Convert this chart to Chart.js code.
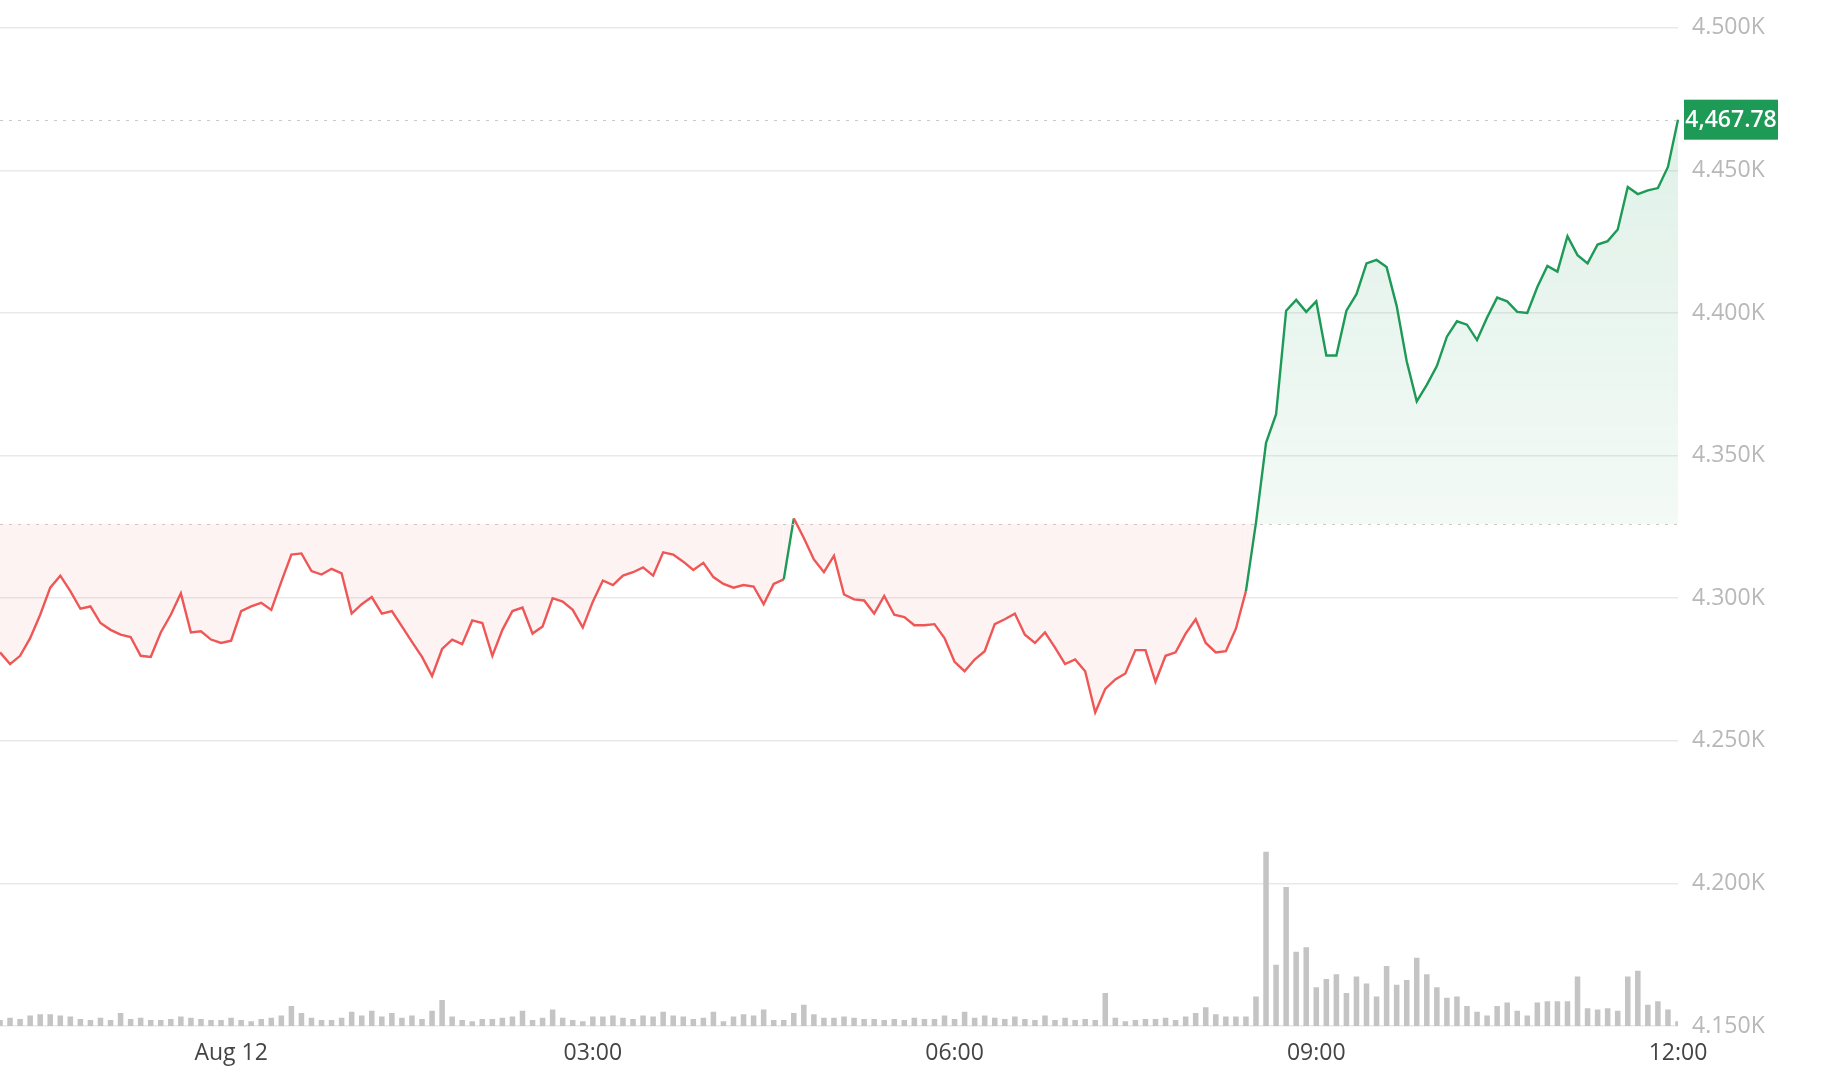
<!DOCTYPE html>
<html>
<head>
<meta charset="utf-8">
<script src="https://cdn.jsdelivr.net/npm/chart.js@4.4.1/dist/chart.umd.min.js"></script>
<style>
  html, body { margin: 0; padding: 0; background: #fff; }
  #wrap { position: relative; width: 1843px; height: 1080px; }
</style>
</head>
<body>
<div id="wrap"><canvas id="priceChart"></canvas></div>
<script>
'use strict';

// ---- data (5-minute points, ending 12:00) ----
const prices = [
  4281.0, 4276.9, 4279.8, 4286.0, 4294.2, 4303.7, 4307.9, 4302.5, 4296.3, 4297.1,
  4291.3, 4288.9, 4287.2, 4286.4, 4279.8, 4279.4, 4288.0, 4294.2, 4301.7, 4288.0,
  4288.4, 4285.5, 4284.3, 4285.1, 4295.5, 4297.1, 4298.4, 4295.9, 4305.8, 4315.3,
  4315.7, 4309.5, 4308.3, 4310.3, 4308.7, 4294.6, 4297.9, 4300.4, 4294.6, 4295.5,
  4290.1, 4284.7, 4279.4, 4272.7, 4282.2, 4285.5, 4283.9, 4292.2, 4291.3, 4279.8,
  4288.9, 4295.5, 4296.7, 4287.6, 4290.1, 4300.0, 4298.8, 4295.9, 4289.7, 4298.8,
  4306.2, 4304.6, 4307.9, 4309.1, 4310.8, 4307.9, 4316.1, 4315.3, 4312.8, 4309.9,
  4312.4, 4307.4, 4305.0, 4303.7, 4304.6, 4304.1, 4297.9, 4305.0, 4306.6, 4328.0,
  4321.1, 4313.6, 4309.1, 4314.9, 4301.3, 4299.6, 4299.2, 4294.6, 4300.8, 4294.2,
  4293.4, 4290.5, 4290.5, 4290.9, 4286.0, 4277.7, 4274.4, 4278.5, 4281.4, 4290.9,
  4292.6, 4294.6, 4287.2, 4284.3, 4288.0, 4282.7, 4276.9, 4278.5, 4274.4, 4259.9,
  4268.2, 4271.5, 4273.6, 4281.8, 4281.8, 4270.7, 4279.8, 4281.0, 4287.6, 4292.6,
  4284.3, 4281.0, 4281.4, 4289.3, 4302.5, 4326.5, 4354.5, 4364.5, 4400.8, 4404.6,
  4400.4, 4404.1, 4385.1, 4385.1, 4400.8, 4406.6, 4417.4, 4418.6, 4416.1, 4402.5,
  4383.1, 4369.0, 4374.8, 4381.4, 4391.7, 4397.1, 4395.9, 4390.5, 4398.4, 4405.4,
  4404.1, 4400.4, 4400.0, 4409.1, 4416.5, 4414.5, 4426.9, 4420.3, 4417.4, 4424.0,
  4425.2, 4429.3, 4444.2, 4441.7, 4443.0, 4443.8, 4451.2, 4467.78
];

const volumes = [
  5, 7, 6, 9, 10, 10, 9, 8, 6, 5,
  7, 5, 11, 6, 7, 5, 5, 6, 8, 7,
  6, 5, 5, 7, 5, 4, 6, 7, 9, 17,
  11, 7, 5, 5, 7, 12, 9, 13, 8, 11,
  7, 9, 6, 13, 22, 8, 5, 4, 6, 6,
  7, 8, 13, 5, 7, 14, 7, 5, 4, 8,
  8, 9, 7, 6, 9, 8, 12, 9, 8, 6,
  7, 12, 4, 8, 10, 9, 14, 5, 5, 11,
  18, 10, 7, 7, 8, 7, 6, 6, 5, 6,
  5, 7, 6, 6, 9, 6, 12, 7, 9, 7,
  6, 8, 6, 5, 9, 5, 7, 5, 6, 5,
  28, 7, 4, 5, 6, 6, 7, 5, 8, 11,
  16, 10, 8, 8, 8, 25, 148, 52, 118, 63,
  67, 33, 40, 44, 28, 42, 36, 25, 51, 35,
  39, 58, 44, 33, 24, 25, 17, 12, 9, 17,
  20, 13, 9, 20, 21, 21, 21, 42, 15, 14,
  15, 13, 42, 47, 18, 21, 14, 4
];

const baseline = 4326.0;        // previous close (dotted line)
const lastPrice = 4467.78;
const yTicks = [4150, 4200, 4250, 4300, 4350, 4400, 4450, 4500];
const xTickLabels = { '00:00': 'Aug 12', '03:00': '03:00', '06:00': '06:00', '09:00': '09:00', '12:00': '12:00' };

// time categories, 5 min apart, last one at 12:00
const times = prices.map((_, i) => {
  const m = ((12 * 60 - (prices.length - 1 - i) * 5) % 1440 + 1440) % 1440;
  return String(Math.floor(m / 60)).padStart(2, '0') + ':' + String(m % 60).padStart(2, '0');
});

const GREEN = '#1e9a57';
const RED = '#ef5656';

const refLines = {
  id: 'refLines',
  afterDatasetsDraw(chart) {
    const { ctx, chartArea: a, scales: { y } } = chart;
    ctx.save();
    ctx.setLineDash([3, 6]);
    ctx.lineWidth = 1.2;
    ctx.strokeStyle = '#c9c9c9';
    [baseline, lastPrice].forEach(v => {
      const py = Math.round(y.getPixelForValue(v)) + 0.5;
      ctx.beginPath(); ctx.moveTo(a.left, py); ctx.lineTo(a.right, py); ctx.stroke();
    });
    ctx.setLineDash([]);
    // last price tag
    const py = y.getPixelForValue(lastPrice);
    const bx = a.right + 6, bw = 94, bh = 40;
    ctx.fillStyle = GREEN;
    ctx.fillRect(bx, py - bh / 2, bw, bh);
    ctx.fillStyle = '#fff';
    ctx.font = '600 23px "Open Sans", Roboto, sans-serif';
    ctx.textAlign = 'center';
    ctx.textBaseline = 'middle';
    ctx.fillText(lastPrice.toLocaleString('en-US', { minimumFractionDigits: 2 }), bx + bw / 2, py + 1);
    ctx.restore();
  }
};

function fillGradient(context) {
  const { chart } = context;
  const a = chart.chartArea;
  if (!a) return 'rgba(30,154,87,0.1)';
  const y = chart.scales.y;
  const g = chart.ctx.createLinearGradient(0, y.getPixelForValue(4470), 0, y.getPixelForValue(baseline));
  g.addColorStop(0, 'rgba(30,154,87,0.14)');
  g.addColorStop(1, 'rgba(30,154,87,0.05)');
  return g;
}

new Chart(document.getElementById('priceChart'), {
  data: {
    labels: times,
    datasets: [
      {
        type: 'line',
        data: prices,
        yAxisID: 'y',
        borderWidth: 2.4,
        pointRadius: 0,
        tension: 0,
        borderColor: GREEN,
        segment: {
          borderColor: s => (s.p1.parsed.y >= baseline && s.p0.parsed.y >= baseline - 30) ? GREEN : RED
        },
        fill: { target: { value: baseline }, above: fillGradient, below: 'rgba(239,86,86,0.07)' },
        order: 1
      },
      {
        type: 'bar',
        data: volumes,
        yAxisID: 'vol',
        backgroundColor: '#c4c4c4',
        barPercentage: 0.55,
        categoryPercentage: 1,
        order: 2
      }
    ]
  },
  options: {
    responsive: true,
    maintainAspectRatio: false,
    animation: false,
    layout: { padding: { top: 14, left: 0, right: 0, bottom: 0 } },
    plugins: { legend: { display: false }, tooltip: { enabled: false } },
    scales: {
      x: {
        offset: false,
        grid: { display: false },
        border: { display: false },
        ticks: {
          autoSkip: false,
          maxRotation: 0,
          padding: 6,
          color: '#444',
          font: { family: '"Open Sans", Roboto, sans-serif', size: 23 },
          callback: function (v) { return xTickLabels[this.getLabelForValue(v)] || null; }
        },
        afterFit: s => { s.height = 54; }
      },
      y: {
        position: 'right',
        min: 4150, max: 4500,
        afterBuildTicks: s => { s.ticks = yTicks.map(v => ({ value: v })); },
        grid: { color: '#e9e9e9', lineWidth: 1.5, drawTicks: false },
        border: { display: false },
        ticks: {
          padding: 14,
          color: '#b8b8b8',
          font: { family: '"Open Sans", Roboto, sans-serif', size: 23 },
          callback: v => (v / 1000).toFixed(3) + 'K'
        },
        afterFit: s => { s.width = 165; }
      },
      vol: {
        display: false,
        min: 0, max: 848
      }
    }
  },
  plugins: [refLines]
});
</script>
</body>
</html>
